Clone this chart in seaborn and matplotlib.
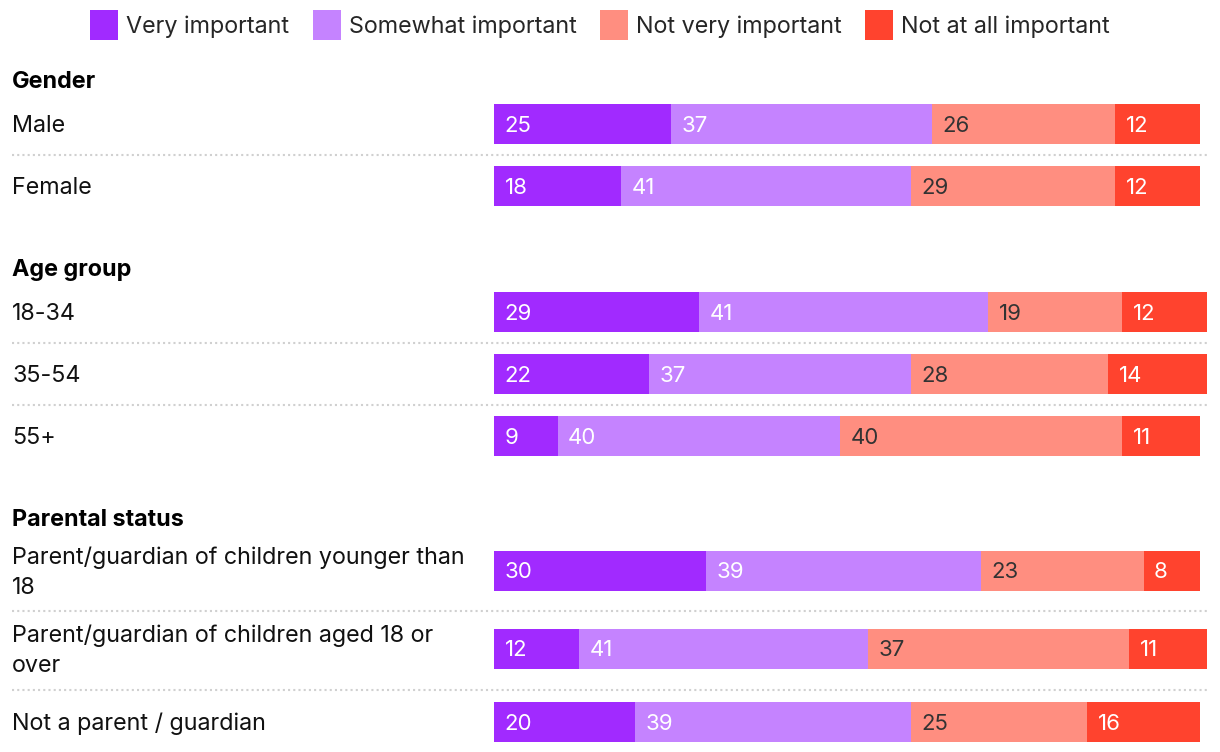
import numpy as np
import pandas as pd
import matplotlib
matplotlib.use("Agg")
import matplotlib.pyplot as plt
from matplotlib.patches import Patch
from matplotlib.transforms import blended_transform_factory
import seaborn as sns

# ---- data ----
row_labels = ["Male", "Female", "18-34", "35-54", "55+",
              "Parent/guardian of children younger than\n18",
              "Parent/guardian of children aged 18 or\nover",
              "Not a parent / guardian"]
groups = ["Gender", "Age group", "Parental status"]
series = ["Very important", "Somewhat important", "Not very important", "Not at all important"]
very_important = [25, 18, 29, 22, 9, 30, 12, 20]
somewhat_important = [37, 41, 41, 37, 40, 39, 41, 39]
not_very_important = [26, 29, 19, 28, 40, 23, 37, 25]
not_at_all_important = [12, 12, 12, 14, 11, 8, 11, 16]

# ---- layout (pixel rows) ----
row_y = [124, 186, 312, 374, 436, 571, 649, 722]
group_y = [80, 268, 518]
sep_y = [155, 343, 405, 611, 690]
colors = ["#A12AFF", "#C583FF", "#FF8E80", "#FF432E"]
text_colors = ["white", "white", "#333333", "white"]

sns.set_theme(style="white")
plt.rcParams["font.family"] = ["Inter", "DejaVu Sans"]

W, H = 1220, 752
px_per_unit = 7.06
fig = plt.figure(figsize=(W / 100, H / 100), dpi=100)
ax = fig.add_axes([494 / W, 0, (W - 494) / W, 1])

vals = np.array([very_important, somewhat_important,
                 not_very_important, not_at_all_important])
cum = vals.cumsum(axis=0)
starts = cum - vals

df = pd.DataFrame({"y": row_y})
# draw stacked bars from the back (full total) to the front
for i in range(3, -1, -1):
    df["x"] = cum[i]
    sns.barplot(data=df, x="x", y="y", orient="y", native_scale=True,
                color=colors[i], width=40 / 62, saturation=1,
                edgecolor="none", linewidth=0, ax=ax)

ax.set_xlim(0, (W - 494) / px_per_unit)
ax.set_ylim(H, 0)
ax.axis("off")

# value labels
for i in range(4):
    for j in range(len(row_y)):
        ax.text(starts[i, j] + 1.5, row_y[j] + 1.5, str(vals[i, j]),
                color=text_colors[i], fontsize=16, va="center", ha="left")

trans = blended_transform_factory(fig.transFigure, ax.transData)
for lab, y in zip(row_labels, row_y):
    ax.text(12 / W, y + 2, lab, transform=trans, fontsize=16.8, va="center",
            ha="left", color="#111111", linespacing=1.5)
for g, y in zip(groups, group_y):
    ax.text(12 / W, y + 2, g, transform=trans, fontsize=16.8, va="center",
            ha="left", color="#000000", fontweight="bold")
for y in sep_y:
    ax.plot([12 / W, 1208 / W], [y, y], transform=trans, color="#d0d0d0",
            linestyle=(0, (1, 1.5)), linewidth=1.5, clip_on=False)

handles = [Patch(facecolor=c, edgecolor="none") for c in colors]
fig.legend(handles, series, ncol=4, loc="upper center",
           bbox_to_anchor=(600 / W, 1.014), frameon=False, fontsize=16.8,
           handlelength=1.2, handleheight=1.6, handletextpad=0.35,
           columnspacing=1.0)

fig.savefig("out.png", dpi=100)
